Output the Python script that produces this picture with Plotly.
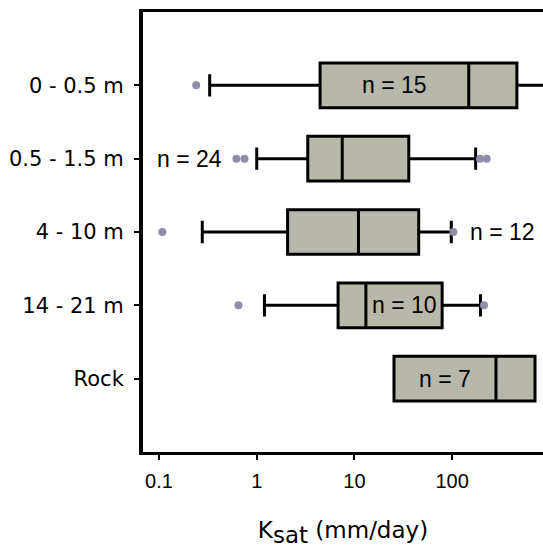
import math
import plotly.graph_objects as go

# ---- data ----
categories = ["0 - 0.5 m", "0.5 - 1.5 m", "4 - 10 m", "14 - 21 m", "Rock"]
lower_fence = [0.33, 1.0, 0.277, 1.2, 25.4]
q1_values = [4.45, 3.33, 2.07, 6.8, 25.4]
median_values = [148, 7.5, 11.0, 13.1, 281]
q3_values = [460, 36, 45.5, 79, 705]
upper_fence = [2000, 174, 98, 195, 705]
sample_sizes = [15, 24, 12, 10, 7]

outlier_categories = ["0 - 0.5 m", "0.5 - 1.5 m", "0.5 - 1.5 m", "0.5 - 1.5 m", "0.5 - 1.5 m",
                      "4 - 10 m", "4 - 10 m", "14 - 21 m", "14 - 21 m"]
outlier_values = [0.24, 0.62, 0.75, 193, 226, 0.108, 103, 0.65, 212]

x_tick_values = [0.1, 1, 10, 100]
x_tick_labels = ["0.1", "1", "10", "100"]

FONT = "Liberation Sans, Arial, sans-serif"
WIDE_FONT = "DejaVu Sans, sans-serif"
BOX_FILL = "#b8b8aa"
OUTLIER_COLOR = "#8e8ea8"

fig = go.Figure()

fig.add_trace(go.Scatter(
    x=outlier_values, y=outlier_categories, mode="markers",
    marker=dict(size=8, color=OUTLIER_COLOR), showlegend=False, hoverinfo="x",
))

fig.add_trace(go.Box(
    y=categories, orientation="h",
    q1=q1_values, median=median_values, q3=q3_values,
    lowerfence=lower_fence, upperfence=upper_fence,
    fillcolor=BOX_FILL, line=dict(color="black", width=3),
    width=0.61, whiskerwidth=0.5, boxpoints=False, showlegend=False,
))

# n = ... labels, placed relative to each box
annotations = []
for i, cat in enumerate(categories):
    txt = f"n = {sample_sizes[i]}"
    if i == 0 or i == 4:
        x = 0.5 * (math.log10(q1_values[i]) + math.log10(median_values[i]))
        a = dict(x=x, xanchor="center", xshift=0)
    elif i == 3:
        x = 0.5 * (math.log10(median_values[i]) + math.log10(q3_values[i]))
        a = dict(x=x, xanchor="center", xshift=0)
    elif i == 1:
        lows = [v for c, v in zip(outlier_categories, outlier_values) if c == cat]
        a = dict(x=math.log10(min(lows)), xanchor="right", xshift=-12)
    else:
        a = dict(x=math.log10(upper_fence[i]), xanchor="left", xshift=17)
    a.update(y=cat, text=txt, showarrow=False, yanchor="middle",
             font=dict(family=FONT, size=23, color="black"))
    annotations.append(a)

fig.update_layout(
    width=543, height=548,
    margin=dict(l=143, r=0, t=12, b=96),
    paper_bgcolor="white", plot_bgcolor="white",
    font=dict(family=FONT, size=21, color="black"),
    annotations=annotations,
    showlegend=False,
)

fig.update_xaxes(
    type="log", range=[-1.164, 2.93],
    tickvals=x_tick_values, ticktext=x_tick_labels,
    ticks="outside", ticklen=5, tickwidth=2, tickcolor="black",
    showline=True, linewidth=3, linecolor="black", mirror=True,
    showgrid=False, zeroline=False,
    tickfont=dict(family=FONT, size=20, color="black"),
    ticklabelstandoff=4,
    title=dict(text="K<sub><span style='font-size:23px'>sat</span></sub> (mm/day)",
               font=dict(family=WIDE_FONT, size=23, color="black"),
               standoff=33),
)

fig.update_yaxes(
    type="category", categoryorder="array", categoryarray=categories,
    range=[5, -1],
    ticks="outside", ticklen=5, tickwidth=2, tickcolor="black",
    showline=True, linewidth=4, linecolor="black", mirror=False,
    showgrid=False, zeroline=False,
    tickfont=dict(family=WIDE_FONT, size=21, color="black"),
    ticklabelstandoff=6,
)

fig.write_html(
    "out.html",
    config={"displayModeBar": False},
    post_script="document.body.style.margin='0';document.body.style.overflow='hidden';",
)
